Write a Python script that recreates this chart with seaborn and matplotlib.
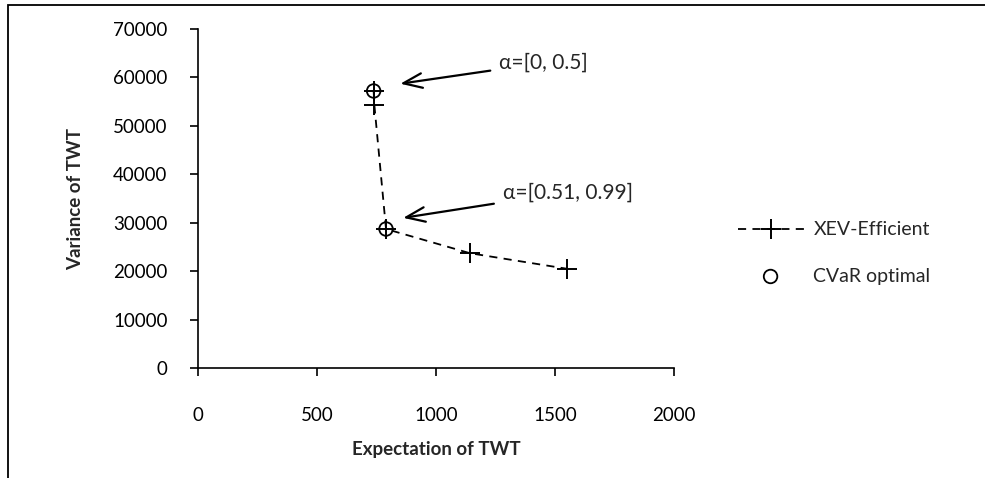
import pandas as pd
import seaborn as sns
import matplotlib.pyplot as plt
from matplotlib.patches import Rectangle

# values
xev_expect = [738, 741, 790, 1143, 1549]
xev_var = [57200, 54300, 28700, 23700, 20500]
cvar_expect = [738, 790]
cvar_var = [57200, 28700]
notes = ['α=[0, 0.5]', 'α=[0.51, 0.99]']
note_tip = [(850, 58700), (862, 31000)]
note_text = [(1265, 63000), (1280, 36300)]
x_ticks = [0, 500, 1000, 1500, 2000]
y_ticks = [0, 10000, 20000, 30000, 40000, 50000, 60000, 70000]

xev = pd.DataFrame({'Expectation': xev_expect, 'Variance': xev_var})
cvar = pd.DataFrame({'Expectation': cvar_expect, 'Variance': cvar_var})

sns.set_style('white')
plt.rcParams['font.family'] = ['Lato', 'DejaVu Sans']

fig = plt.figure(figsize=(9.85, 4.78), dpi=100)
fig.patches.append(Rectangle((8 / 985, -0.1), 1.2, 1 - 5 / 478 + 0.1, transform=fig.transFigure,
                             fill=False, edgecolor='black', linewidth=1.3))
ax = fig.add_axes([198 / 985, 1 - 368 / 478, 476 / 985, 339 / 478])

sns.lineplot(data=xev, x='Expectation', y='Variance', sort=False, ax=ax, color='black',
             linestyle=(0, (4.5, 3.5)), linewidth=1.3, marker='+', markersize=14,
             markeredgewidth=1.4, markeredgecolor='black', label='XEV-Efficient')
sns.scatterplot(data=cvar, x='Expectation', y='Variance', ax=ax, marker='o', s=95,
                facecolor='none', edgecolor='black', linewidth=1.3, label='CVaR optimal', zorder=5)

for txt, tip, pos in zip(notes, note_tip, note_text):
    ax.annotate(txt, xy=tip, xytext=pos, fontsize=15, va='center', ha='left',
                arrowprops=dict(arrowstyle='->,head_length=0.9,head_width=0.35', color='black',
                                lw=1.6, shrinkA=4, shrinkB=0))

ax.set_xlim(0, 2000)
ax.set_ylim(0, 70000)
ax.set_xticks(x_ticks)
ax.set_yticks(y_ticks)
ax.tick_params(axis='both', direction='out', length=6, width=1.2, colors='black', labelsize=13.5,
               bottom=True, left=True)
ax.tick_params(axis='x', pad=22)
ax.tick_params(axis='y', pad=16)
sns.despine(ax=ax)
for s in ['left', 'bottom']:
    ax.spines[s].set_linewidth(1.2)
    ax.spines[s].set_color('black')

ax.set_xlabel('Expectation of TWT', fontsize=13.5, fontweight='bold', labelpad=12)
ax.set_ylabel('Variance of TWT', fontsize=13.5, fontweight='bold', labelpad=21)

ax.legend(loc='center left', bbox_to_anchor=(720 / 985, 1 - 253 / 478), bbox_transform=fig.transFigure,
          frameon=False, fontsize=14, handlelength=3.4, handletextpad=0.5, labelspacing=1.5)

fig.savefig('out.png', dpi=100)
